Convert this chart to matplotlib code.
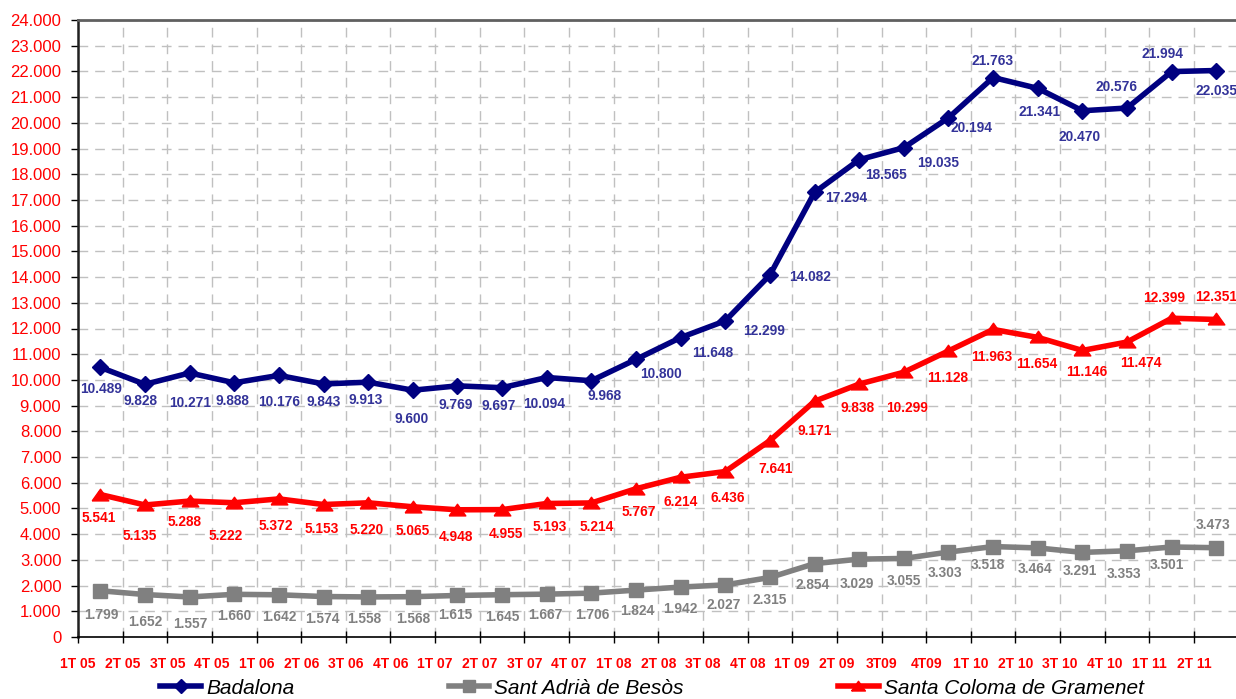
import matplotlib
matplotlib.use("Agg")
import matplotlib.pyplot as plt
from matplotlib.lines import Line2D
import numpy as np

plt.rcParams['font.family'] = ['Liberation Sans', 'DejaVu Sans']

categories = ["1T 05", "2T 05", "3T 05", "4T 05", "1T 06", "2T 06", "3T 06", "4T 06",
              "1T 07", "2T 07", "3T 07", "4T 07", "1T 08", "2T 08", "3T 08", "4T 08",
              "1T 09", "2T 09", "3T09", "4T09", "1T 10", "2T 10", "3T 10", "4T 10",
              "1T 11", "2T 11"]

badalona = [10489, 9828, 10271, 9888, 10176, 9843, 9913, 9600, 9769, 9697, 10094, 9968,
            10800, 11648, 12299, 14082, 17294, 18565, 19035, 20194, 21763, 21341, 20470,
            20576, 21994, 22035]
sant_adria = [1799, 1652, 1557, 1660, 1642, 1574, 1558, 1568, 1615, 1645, 1667, 1706,
              1824, 1942, 2027, 2315, 2854, 3029, 3055, 3303, 3518, 3464, 3291, 3353,
              3501, 3473]
santa_coloma = [5541, 5135, 5288, 5222, 5372, 5153, 5220, 5065, 4948, 4955, 5193, 5214,
                5767, 6214, 6436, 7641, 9171, 9838, 10299, 11128, 11963, 11654, 11146,
                11474, 12399, 12351]

series_names = ["Badalona", "Sant Adrià de Besòs", "Santa Coloma de Gramenet"]

# label offsets (pixels, dx right, dy down) relative to each point
bad_off = [(1, 22), (-4, 17), (1, 30), (-2, 18), (0, 27), (0, 18), (-2, 18), (-1, 29),
           (-2, 19), (-3, 18), (-3, 26), (13, 15), (25, 15), (32, 15), (39, 10), (40, 2),
           (32, 6), (27, 15), (34, 15), (23, 10), (-1, -17), (2, 24), (-3, 26), (-11, -21),
           (-9, -18), (0, 20)]
sc_off = [(-2, 23), (-5, 31), (-5, 21), (-9, 33), (-3, 27), (-2, 24), (-1, 27), (0, 24),
          (-2, 27), (4, 24), (3, 24), (5, 24), (3, 23), (0, 25), (2, 26), (6, 28),
          (0, 30), (-2, 24), (3, 36), (-1, 27), (-1, 28), (-1, 27), (4, 22), (14, 21),
          (-8, -20), (0, -22)]
sa_off = [(1, 24), (0, 27), (1, 27), (0, 22), (0, 22), (-1, 22), (-4, 22), (0, 22),
          (-2, 20), (0, 22), (-1, 21), (1, 22), (1, 21), (0, 22), (-2, 20), (0, 23),
          (-2, 21), (-2, 25), (0, 23), (-3, 21), (-5, 18), (-3, 21), (-3, 19), (-3, 23),
          (-5, 18), (-3, -23)]

W, H = 1236, 699
fig = plt.figure(figsize=(W / 100, H / 100), dpi=100)
ax = fig.add_axes([78 / W, 1 - 637 / H, 26 * 44.64 / W, 617 / H])

x = np.arange(len(categories))

navy = "#000080"
navy_lbl = "#333399"
gray = "#808080"
red = "#FF0000"

tri = [(-1.0, -0.65), (1.0, -0.65), (0.0, 0.75), (-1.0, -0.65)]

ax.plot(x, badalona, color=navy, lw=4, marker="D", markersize=8, zorder=5, clip_on=False)
ax.plot(x, sant_adria, color=gray, lw=4, marker="s", markersize=9.5, zorder=4, clip_on=False)
ax.plot(x, santa_coloma, color=red, lw=4, marker=tri, markersize=12, zorder=4, clip_on=False)

def fmt(v):
    return f"{v:,}".replace(",", ".")

for vals, offs, col in [(badalona, bad_off, navy_lbl), (santa_coloma, sc_off, red),
                        (sant_adria, sa_off, gray)]:
    for i, (v, (dx, dy)) in enumerate(zip(vals, offs)):
        ax.annotate(fmt(v), (i, v), xytext=(dx, -dy), textcoords="offset pixels",
                    ha="center", va="center", fontsize=9.9, fontweight="bold",
                    color=col, zorder=6, annotation_clip=False)

ax.set_xlim(-0.5, 25.5)
ax.set_ylim(0, 24000)
ax.set_yticks(np.arange(0, 24001, 1000))
ax.set_yticklabels([fmt(v) for v in range(0, 24001, 1000)], color=red, fontsize=12)
ax.set_xticks(np.arange(len(categories) + 1) - 0.5)
ax.set_xticklabels(categories + [""], color=red, fontsize=10, fontweight="bold")
ax.tick_params(axis="x", direction="inout", length=9, width=1, pad=10, colors="black",
               labelcolor=red)
ax.tick_params(axis="y", direction="out", length=5, width=1, pad=7, colors="black",
               labelcolor=red)

ax.grid(True, color="#c0c0c0", lw=1, linestyle=(0, (7, 5)))
ax.set_axisbelow(True)

ax.spines["top"].set_color("#606060")
ax.spines["top"].set_linewidth(2)
ax.spines["left"].set_color("#202020")
ax.spines["left"].set_linewidth(1.8)
ax.spines["bottom"].set_color("black")
ax.spines["bottom"].set_linewidth(1.2)
ax.spines["right"].set_visible(False)

handles = [
    Line2D([], [], color=navy, lw=4, marker="D", markersize=7),
    Line2D([], [], color=gray, lw=4, marker="s", markersize=8),
    Line2D([], [], color=red, lw=4, marker=tri, markersize=10),
]
fig.legend(handles, series_names, loc="center", bbox_to_anchor=(652 / W, 1 - 688 / H),
           ncol=3, frameon=False, prop={"size": 15, "style": "italic"},
           handlelength=1.95, handletextpad=0.25, columnspacing=7.4, borderaxespad=0,
           borderpad=0)

fig.savefig("out.png", dpi=100)
